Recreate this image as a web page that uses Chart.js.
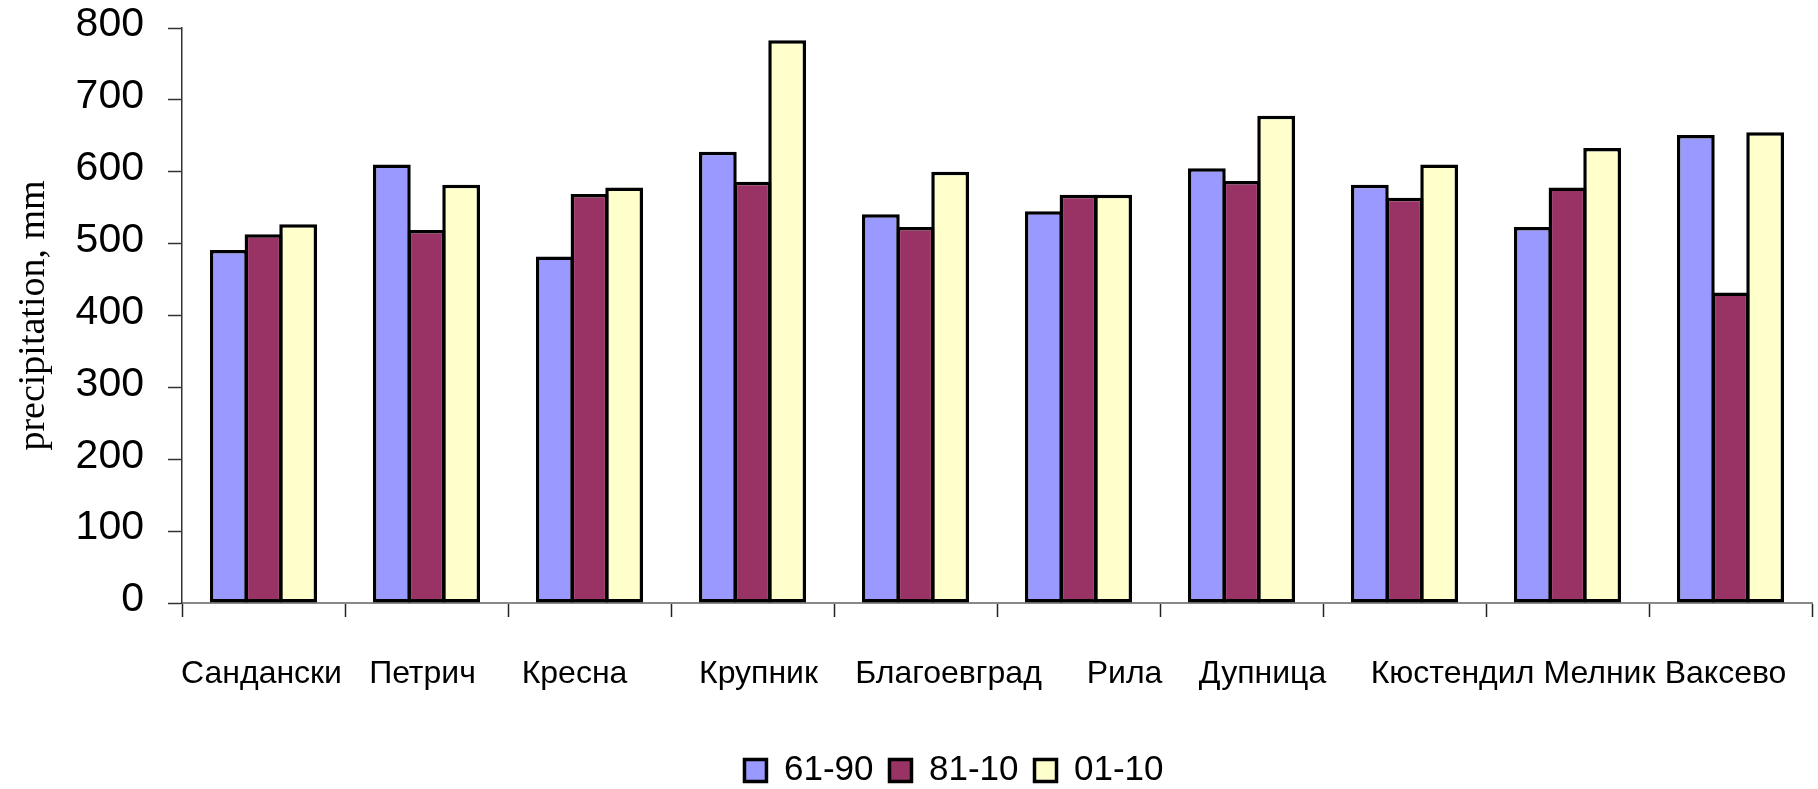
<!DOCTYPE html>
<html>
<head>
<meta charset="utf-8">
<title>Precipitation by station</title>
<script src="https://cdn.jsdelivr.net/npm/chart.js@4/dist/chart.umd.min.js"></script>
<style>
  html, body { margin: 0; padding: 0; background: #ffffff; }
  canvas { display: block; }
</style>
</head>
<body>
<canvas id="chart" width="1818" height="789"></canvas>
<script>
// Stations (x-axis categories)
const stations = ['Сандански', 'Петрич', 'Кресна', 'Крупник', 'Благоевград', 'Рила', 'Дупница', 'Кюстендил', 'Мелник', 'Ваксево'];

// Mean annual precipitation, mm, for each reference period
const period1Label = '61-90';
const period1 = [491, 610, 482, 628, 541, 545, 605, 582, 523, 651];

const period2Label = '81-10';
const period2 = [513, 519, 569, 586, 523, 568, 587, 564, 578, 432];

const period3Label = '01-10';
const period3 = [527, 582, 578, 783, 600, 568, 678, 610, 633, 655];

// Y axis
const yTicks = [0, 100, 200, 300, 400, 500, 600, 700, 800];
const yTitle = 'precipitation, mm';

// Horizontal nudge of each station name relative to its category centre (px)
const labelNudge = [-2, -4, -15, 6, 33, 46, 21, 48, 32, -5];

const SANS = '"Liberation Sans", Arial, sans-serif';
const SERIF = '"Liberation Serif", "Times New Roman", serif';

// Draws the station names under the x axis
const stationLabels = {
  id: 'stationLabels',
  afterDraw(chart) {
    const xs = chart.scales.x;
    const ctx = chart.ctx;
    ctx.save();
    ctx.font = '32px ' + SANS;
    ctx.fillStyle = '#000000';
    ctx.textAlign = 'center';
    ctx.textBaseline = 'alphabetic';
    stations.forEach((name, i) => {
      ctx.fillText(name, xs.getPixelForValue(i) + labelNudge[i], xs.top + 80);
    });
    ctx.restore();
  }
};

// Places the legend row under the plot, centred under the bars
const legendPlacement = {
  id: 'legendPlacement',
  afterLayout(chart) {
    const lg = chart.legend;
    const h = lg.height;
    lg.left = 90;
    lg.right = 1818;
    lg.top = 737;
    lg.bottom = lg.top + h;
  }
};

const barStyle = {
  borderColor: '#000000',
  borderWidth: 3.5,
  borderSkipped: false,
  barPercentage: 1.09,
  categoryPercentage: 0.638
};

new Chart(document.getElementById('chart'), {
  type: 'bar',
  data: {
    labels: stations,
    datasets: [
      Object.assign({ label: period1Label, data: period1, backgroundColor: '#9999FF' }, barStyle),
      Object.assign({ label: period2Label, data: period2, backgroundColor: '#993366' }, barStyle),
      Object.assign({ label: period3Label, data: period3, backgroundColor: '#FFFFCC' }, barStyle)
    ]
  },
  options: {
    responsive: false,
    animation: false,
    devicePixelRatio: 1,
    layout: { padding: { left: 0, right: 6, top: 28, bottom: 0 } },
    plugins: {
      tooltip: { enabled: false },
      legend: {
        position: 'bottom',
        labels: {
          font: { family: SANS, size: 35 },
          color: '#000000',
          boxWidth: 22,
          boxHeight: 22,
          padding: 16
        }
      }
    },
    scales: {
      x: {
        type: 'category',
        offset: true,
        border: { display: true, color: '#888888', width: 2 },
        grid: {
          offset: true,
          drawOnChartArea: false,
          drawTicks: true,
          tickLength: 14,
          tickColor: '#222222',
          tickWidth: 1.5
        },
        ticks: { display: false },
        afterFit(scale) {
          scale.height = 186 - scale.chart.legend.height;
        }
      },
      y: {
        min: 0,
        max: 800,
        afterBuildTicks(scale) {
          scale.ticks = yTicks.map(v => ({ value: v }));
        },
        border: { display: true, color: '#333333', width: 1.5 },
        grid: {
          drawOnChartArea: false,
          drawTicks: true,
          tickLength: 14,
          tickColor: '#333333',
          tickWidth: 1.5
        },
        ticks: {
          font: { family: SANS, size: 41 },
          color: '#000000',
          padding: 24,
          labelOffset: -3
        },
        title: {
          display: true,
          text: yTitle,
          font: { family: SERIF, size: 38 },
          color: '#000000',
          padding: { top: 11, bottom: 0 }
        },
        afterFit(scale) {
          scale.width = 182;
          scale.paddingTop = 0;
          scale.paddingBottom = 0;
        }
      }
    }
  },
  plugins: [stationLabels, legendPlacement]
});
</script>
</body>
</html>
